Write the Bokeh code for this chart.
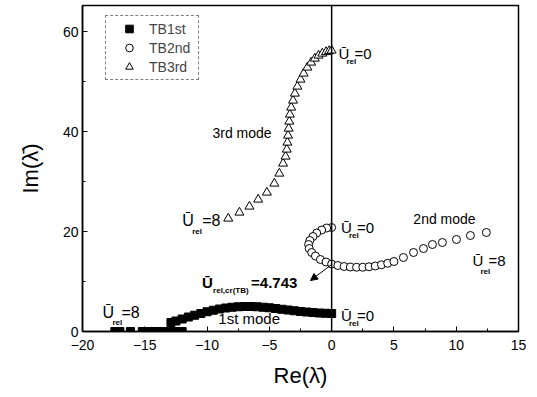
from bokeh.plotting import figure
from bokeh.models import Label, Span, Arrow, NormalHead, Range1d, FixedTicker
from bokeh.embed import file_html
from bokeh.resources import INLINE

# ---- data ----
tb1_re = [0, -0.5, -1, -1.5, -2, -2.5, -3, -3.5, -4, -4.5, -5, -5.5, -6, -6.5, -7,
          -7.5, -8, -8.5, -9, -9.5, -10, -10.5, -11, -11.5, -12, -12.5, -12.9,
          -12.0, -12.4, -12.8, -13.2, -13.6, -14.0, -14.4, -14.8, -15.2, -16.15,
          -17.0, -17.4]
tb1_im = [3.6, 3.65, 3.7, 3.8, 3.9, 4.0, 4.15, 4.3, 4.45, 4.6, 4.75, 4.85, 4.95, 5.0, 5.0,
          4.95, 4.85, 4.7, 4.5, 4.25, 3.95, 3.6, 3.25, 2.9, 2.5, 2.1, 1.8,
          0, 0, 0, 0, 0, 0, 0, 0, 0, 0,
          0, 0]

tb2_re = [0, -0.4, -0.8, -1.2, -1.5, -1.75, -1.85, -1.8, -1.6, -1.3, -0.9, -0.45, 0,
          0.5, 1.0, 1.5, 2.0, 2.5, 3.0, 3.5, 4.0, 4.5, 5.0, 5.76, 6.57, 7.37, 8.09,
          8.89, 10.02, 11.14, 12.42]
tb2_im = [20.8, 20.7, 20.3, 19.7, 19.0, 18.2, 17.4, 16.6, 15.8, 15.1, 14.4, 13.9, 13.5,
          13.2, 13.0, 12.9, 12.85, 12.85, 12.95, 13.1, 13.35, 13.65, 14.0, 14.8, 15.8,
          16.6, 17.4, 17.8, 18.4, 19.2, 19.8]

tb3_re = [-8.3, -7.4, -6.6, -5.9, -5.2, -4.6, -4.2, -3.9, -3.7, -3.6, -3.55, -3.5, -3.45,
          -3.4, -3.35, -3.25, -3.1, -2.95, -2.75, -2.5, -2.25, -1.95, -1.65, -1.35,
          -1.05, -0.75, -0.45, -0.2, 0]
tb3_im = [22.6, 23.8, 25.0, 26.4, 27.8, 29.6, 31.6, 33.6, 35.0, 36.4, 37.8, 39.2, 40.6,
          42.0, 43.4, 44.8, 46.2, 47.6, 49.0, 50.4, 51.6, 52.8, 53.8, 54.6,
          55.2, 55.6, 55.9, 56.1, 56.2]

x_ticks = [-20, -15, -10, -5, 0, 5, 10, 15]
y_ticks = [0, 20, 40, 60]

FONT = "Liberation Sans"
Y_MAX = 65.2

p = figure(frame_width=436, frame_height=326, output_backend="svg", toolbar_location=None,
           x_range=Range1d(-20, 15), y_range=Range1d(0, Y_MAX),
           min_border_left=82, min_border_right=12, min_border_top=5,
           min_border_bottom=58)
p.background_fill_color = "white"
p.border_fill_color = "white"
p.grid.visible = False
p.outline_line_color = "black"
p.outline_line_width = 1.5

p.xaxis.ticker = FixedTicker(ticks=x_ticks, minor_ticks=[-17.5, -12.5, -7.5, -2.5, 2.5, 7.5, 12.5])
p.yaxis.ticker = FixedTicker(ticks=y_ticks, minor_ticks=[10, 30, 50])
for ax in (p.xaxis[0], p.yaxis[0]):
    ax.axis_line_color = "black"
    ax.axis_line_width = 1.5
    ax.major_tick_in = 5
    ax.major_tick_out = 0
    ax.minor_tick_in = 3
    ax.minor_tick_out = 0
    ax.major_tick_line_color = "black"
    ax.minor_tick_line_color = "black"
    ax.major_label_text_font = FONT
    ax.major_label_text_font_size = "14px"
    ax.major_label_text_color = "black"
    ax.axis_label_text_font = FONT
    ax.axis_label_text_font_style = "normal"
    ax.axis_label_text_font_size = "22px"
    ax.axis_label_text_color = "black"
p.xaxis.axis_label = "Re(\u03bb\u0304)"
p.yaxis.axis_label = "Im(\u03bb\u0304)"
p.xaxis.major_label_standoff = 8
p.yaxis.major_label_standoff = 4
p.xaxis.axis_label_standoff = 10
p.yaxis.axis_label_standoff = 17

p.add_layout(Span(location=0, dimension="height", line_color="black", line_width=1.5))

r1 = p.scatter(tb1_re, tb1_im, marker="square", size=8, fill_color="black",
               line_color="black", legend_label="TB1st")
r2 = p.scatter(tb2_re, tb2_im, marker="circle", size=8, fill_color="white",
               line_color="black", line_width=1, legend_label="TB2nd")
r3 = p.scatter(tb3_re, tb3_im, marker="triangle", size=9, fill_color="white",
               line_color="black", line_width=1, legend_label="TB3rd")

lg = p.legend[0]
lg.location = (23, 251)
lg.border_line_color = "black"
lg.border_line_dash = "1 2"
lg.border_line_width = 1
lg.background_fill_alpha = 1
lg.padding = 3
lg.margin = 0
lg.spacing = 0
lg.label_height = 19
lg.glyph_height = 19
lg.glyph_width = 40
lg.label_standoff = 0
lg.label_width = 46
lg.label_text_font = FONT
lg.label_text_font_size = "14px"

# pixel -> data conversion for text pieces
XPX = 35.0 / 436.0
YPX = Y_MAX / 326.0


def lab(x, y, text, size="14px", style="normal", dx=0, dy=0):
    p.add_layout(Label(x=x + dx * XPX, y=y - dy * YPX, text=text, text_font=FONT,
                       text_font_size=size, text_font_style=style, text_color="black",
                       text_align="left", text_baseline="middle"))


def ulab(x, y, tail, sub="rel", sub_dx=8, sub_dy=8, tail_dx=16, size="15px",
         subsize="8px", style="normal", tail_style="normal"):
    lab(x, y, "\u016a", size=size, style=style)
    lab(x, y, sub, size=subsize, style="bold", dx=sub_dx, dy=sub_dy)
    lab(x, y, tail, size=size, style=tail_style, dx=tail_dx)


# mode names
lab(-9.57, 39.8, "3rd mode", size="14px")
lab(6.56, 22.6, "2nd mode", size="14px")
lab(-9.1, 2.6, "1st mode", size="15px")

# U_rel labels
ulab(0.55, 55.6, "=0")
ulab(0.75, 20.8, "=0")
ulab(0.75, 3.2, "=0")
ulab(-12.0, 22.2, "=8", sub_dx=10, sub_dy=11, tail_dx=20, size="16px")
ulab(-18.4, 3.8, "=8", sub_dx=10, sub_dy=10, tail_dx=19, size="16px")
ulab(11.3, 14.2, "=8", sub_dx=8, sub_dy=11, tail_dx=16, size="15px")
ulab(-10.4, 9.8, "=4.743", sub="rel,cr(TB)", sub_dx=11, sub_dy=8, tail_dx=49,
     size="15px", subsize="8px", style="bold", tail_style="bold")

p.add_layout(Arrow(end=NormalHead(size=7, fill_color="black", line_color="black"),
                   x_start=0, y_start=13.4, x_end=-1.7, y_end=10.2,
                   line_color="black", line_width=1))

open("out.html", "w").write(file_html(p, INLINE))
